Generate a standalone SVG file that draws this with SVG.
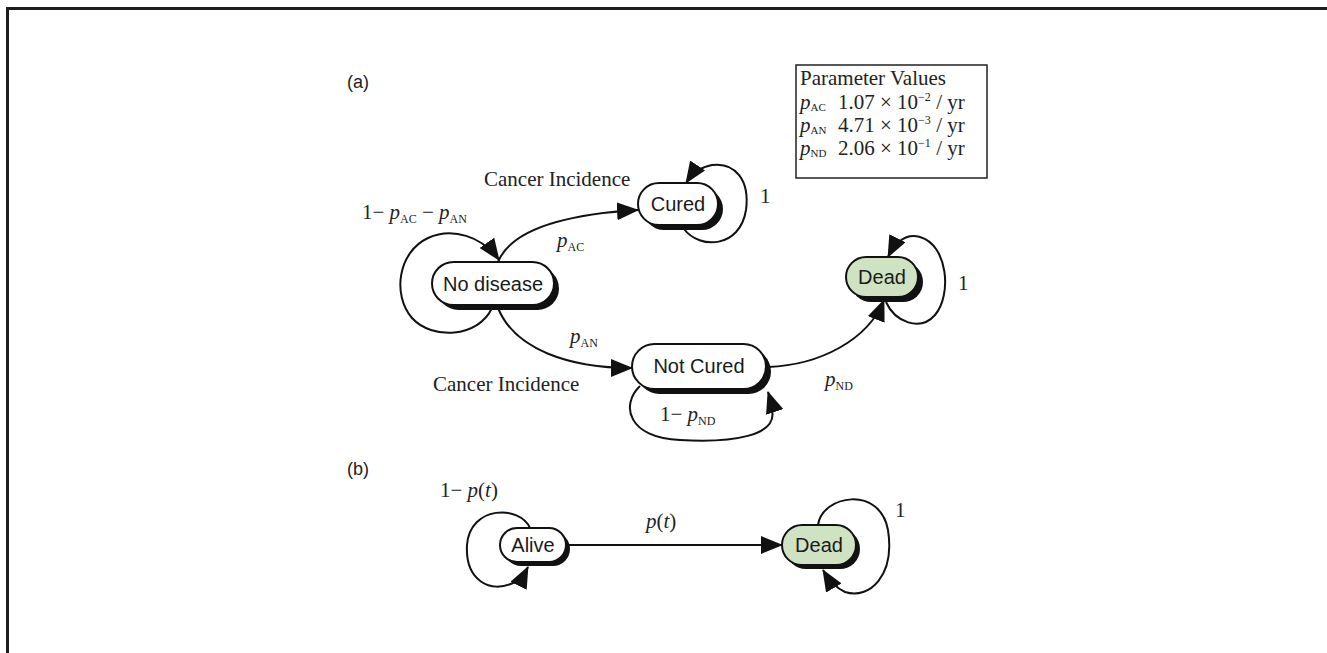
<svg xmlns="http://www.w3.org/2000/svg" width="1327" height="653" viewBox="0 0 1327 653">
<style>
.node text{font-family:"Liberation Sans",Arial,sans-serif;font-size:20px;text-anchor:middle;fill:#1a1a1a}
.pill{fill:#fff;stroke:#111;stroke-width:2}
.green{fill:#cfe3c3}
.sh{fill:#111}
.edge{fill:none;stroke:#111;stroke-width:2}
.lbl{font-family:"Liberation Serif","Times New Roman",serif;font-size:21px;fill:#222}
.sub{font-size:12px}
.it{font-style:italic}
.tag{font-family:"Liberation Sans",Arial,sans-serif;font-size:18px;fill:#222}
.pv{font-family:"Liberation Serif","Times New Roman",serif;font-size:21px;fill:#222}
</style>
<defs>
<marker id="ah" markerUnits="userSpaceOnUse" markerWidth="22" markerHeight="18" refX="21" refY="9" orient="auto"><path d="M0,0 L22,9 L0,18 z" fill="#111"/></marker>
</defs>
<rect width="1327" height="653" fill="#fff"/>
<path d="M7.5 653 V8.5 H1327" stroke="#1e1e1e" stroke-width="3" fill="none"/>

<text class="tag" x="347" y="88">(a)</text>
<text class="tag" x="347" y="475">(b)</text>

<g id="params">
<rect x="796" y="65" width="191" height="113" fill="#fff" stroke="#222" stroke-width="1.5"/>
<text class="pv" x="800" y="85">Parameter Values</text>
<text class="pv" x="800" y="109"><tspan class="it">p</tspan><tspan font-size="11" dy="2">AC</tspan><tspan dy="-2" x="838">1.07 × 10</tspan><tspan font-size="12" dy="-8">−2</tspan><tspan dy="8"> / yr</tspan></text>
<text class="pv" x="800" y="132"><tspan class="it">p</tspan><tspan font-size="11" dy="2">AN</tspan><tspan dy="-2" x="838">4.71 × 10</tspan><tspan font-size="12" dy="-8">−3</tspan><tspan dy="8"> / yr</tspan></text>
<text class="pv" x="800" y="155"><tspan class="it">p</tspan><tspan font-size="11" dy="2">ND</tspan><tspan dy="-2" x="838">2.06 × 10</tspan><tspan font-size="12" dy="-8">−1</tspan><tspan dy="8"> / yr</tspan></text>
</g>

<g id="connectors">
<path class="edge" marker-end="url(#ah)" d="M498 262 C512 228 570 214 638 210"/>
<path class="edge" marker-end="url(#ah)" d="M492 308 C478 338 432 340 412 318 C392 295 398 252 428 238 C452 227 482 236 499 260"/>
<path class="edge" marker-end="url(#ah)" d="M498 308 C515 350 570 368 632 368"/>
<path class="edge" marker-end="url(#ah)" d="M640 386 C620 405 628 438 680 440 C732 443 778 436 772 410 C771 404 770 398 768 392"/>
<path class="edge" marker-end="url(#ah)" d="M768 367 C820 365 868 340 884 300"/>
<path class="edge" marker-end="url(#ah)" d="M886 302 C895 322 920 332 935 315 C952 295 948 245 920 237 C905 233 895 243 888 257"/>
<path class="edge" marker-end="url(#ah)" d="M684 229 C700 250 740 248 746 210 C750 180 735 162 712 165 C700 167 692 174 686 183"/>
<path class="edge" marker-end="url(#ah)" d="M566 545 L782 545"/>
<path class="edge" marker-end="url(#ah)" d="M530 528 C520 505 470 505 467 545 C465 580 490 595 515 582 C520 579 524 575 528 567"/>
<path class="edge" marker-end="url(#ah)" d="M818 525 C822 495 880 485 888 530 C895 575 870 600 845 592 C836 588 829 580 823 570"/>
</g>

<g id="node-nodisease" class="node">
<rect class="sh" x="437" y="267" width="122" height="43" rx="21.5"/>
<rect class="pill" x="432" y="262" width="122" height="43" rx="21.5"/>
<text x="493" y="291">No disease</text>
</g>
<g id="node-cured" class="node">
<rect class="sh" x="643" y="188" width="80" height="42" rx="21"/>
<rect class="pill" x="638" y="183" width="80" height="42" rx="21"/>
<text x="678" y="211">Cured</text>
</g>
<g id="node-notcured" class="node">
<rect class="sh" x="637" y="349" width="134" height="45" rx="22.5"/>
<rect class="pill" x="632" y="344" width="134" height="45" rx="22.5"/>
<text x="699" y="373">Not Cured</text>
</g>
<g id="node-dead-a" class="node">
<rect class="sh" x="851" y="262" width="72" height="40" rx="20"/>
<rect class="pill green" x="846" y="257" width="72" height="40" rx="20" stroke="none"/>
<text x="882" y="284">Dead</text>
</g>
<g id="node-alive" class="node">
<rect class="sh" x="504" y="532" width="66" height="34" rx="17"/>
<rect class="pill" x="500" y="528" width="66" height="34" rx="17"/>
<text x="533" y="552">Alive</text>
</g>
<g id="node-dead-b" class="node">
<rect class="sh" x="786" y="529" width="74" height="40" rx="20"/>
<rect class="pill green" x="782" y="525" width="74" height="40" rx="20" stroke="none"/>
<text x="819" y="552">Dead</text>
</g>

<g id="labels">
<text class="lbl" x="484" y="186">Cancer Incidence</text>
<text class="lbl" x="362" y="219">1− <tspan class="it">p</tspan><tspan class="sub" dy="4">AC</tspan><tspan dy="-4"> − </tspan><tspan class="it">p</tspan><tspan class="sub" dy="4">AN</tspan></text>
<text class="lbl" x="557" y="247"><tspan class="it">p</tspan><tspan class="sub" dy="4">AC</tspan></text>
<text class="lbl" x="570" y="343"><tspan class="it">p</tspan><tspan class="sub" dy="4">AN</tspan></text>
<text class="lbl" x="433" y="391">Cancer Incidence</text>
<text class="lbl" x="660" y="421">1− <tspan class="it">p</tspan><tspan class="sub" dy="4">ND</tspan></text>
<text class="lbl" x="825" y="386"><tspan class="it">p</tspan><tspan class="sub" dy="4">ND</tspan></text>
<text class="lbl" x="760" y="203">1</text>
<text class="lbl" x="958" y="290">1</text>
<text class="lbl" x="895" y="517">1</text>
<text class="lbl" x="646" y="528"><tspan class="it">p</tspan>(<tspan class="it">t</tspan>)</text>
<text class="lbl" x="440" y="497">1− <tspan class="it">p</tspan>(<tspan class="it">t</tspan>)</text>
</g>
</svg>
